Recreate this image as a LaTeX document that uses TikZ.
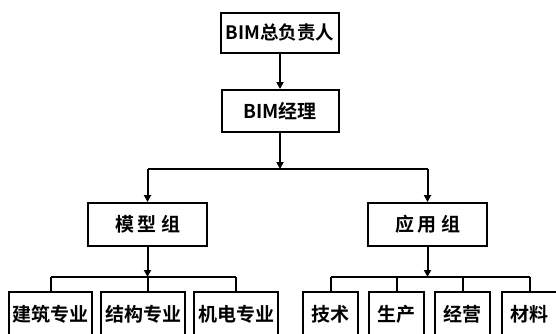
\documentclass[tikz,border=0pt]{standalone}
\usepackage{fontspec}
\setmainfont{Noto Sans CJK SC Bold}
\usetikzlibrary{arrows.meta}
\tikzset{
  box/.style={draw, line width=2bp, rectangle, inner sep=0pt, align=center, font=\fontsize{19bp}{22bp}\selectfont},
  ln/.style={line width=2bp},
  arr/.style={line width=2bp, -{Triangle[width=7bp,length=7bp]}}
}
\begin{document}
\begin{tikzpicture}[x=1bp,y=-1bp]
\useasboundingbox (0,0) rectangle (556,333);
\fill[white] (0,0) rectangle (556,333);
\clip (0,0) rectangle (556,333);
\node[box, minimum width=118bp, minimum height=40bp, font=\fontsize{18.5bp}{21bp}\selectfont] (top) at (280,33) {BIM总负责人};
\node[box, minimum width=117bp, minimum height=42bp] (mgr) at (280,111) {BIM经理};
\node[box, minimum width=119bp, minimum height=43bp] (mx) at (147.5,224.5) {模\hspace{4bp}型\hspace{4bp}组};
\node[box, minimum width=119bp, minimum height=43bp] (app) at (427.5,224.5) {应\hspace{4bp}用\hspace{4bp}组};
\node[box, minimum width=83bp, minimum height=44bp] (jz) at (50.5,314) {建筑专业};
\node[box, minimum width=84bp, minimum height=44bp] (jg) at (143,314) {结构专业};
\node[box, minimum width=84bp, minimum height=44bp] (jd) at (236,314) {机电专业};
\node[box, minimum width=55bp, minimum height=44bp] (js) at (330.5,314) {技术};
\node[box, minimum width=55bp, minimum height=44bp] (sc) at (396.5,314) {生产};
\node[box, minimum width=55bp, minimum height=44bp] (jy) at (462.5,314) {经营};
\node[box, minimum width=55bp, minimum height=44bp] (cl) at (529.5,314) {材料};
\coordinate (h1) at (280,169);
\coordinate (l2) at (147.5,277);
\coordinate (r2) at (427.5,277);
\draw[arr] (top) -- (mgr);
\draw[arr] (mgr) -- (h1);
\draw[ln] (mx |- h1) -- (app |- h1);
\draw[arr] (mx |- h1) -- (mx);
\draw[arr] (app |- h1) -- (app);
\draw[arr] (mx) -- (l2);
\draw[ln] (jz |- l2) -- (jd |- l2);
\draw[ln] (jz |- l2) -- (jz);
\draw[ln] (l2) -- (l2 |- jg.north);
\draw[ln] (jd |- l2) -- (jd);
\draw[arr] (app) -- (r2);
\draw[ln] (js |- r2) -- (cl |- r2);
\draw[ln] (js |- r2) -- (js);
\draw[ln] (sc |- r2) -- (sc);
\draw[ln] (jy |- r2) -- (jy);
\draw[ln] (cl |- r2) -- (cl);
\end{tikzpicture}
\end{document}
